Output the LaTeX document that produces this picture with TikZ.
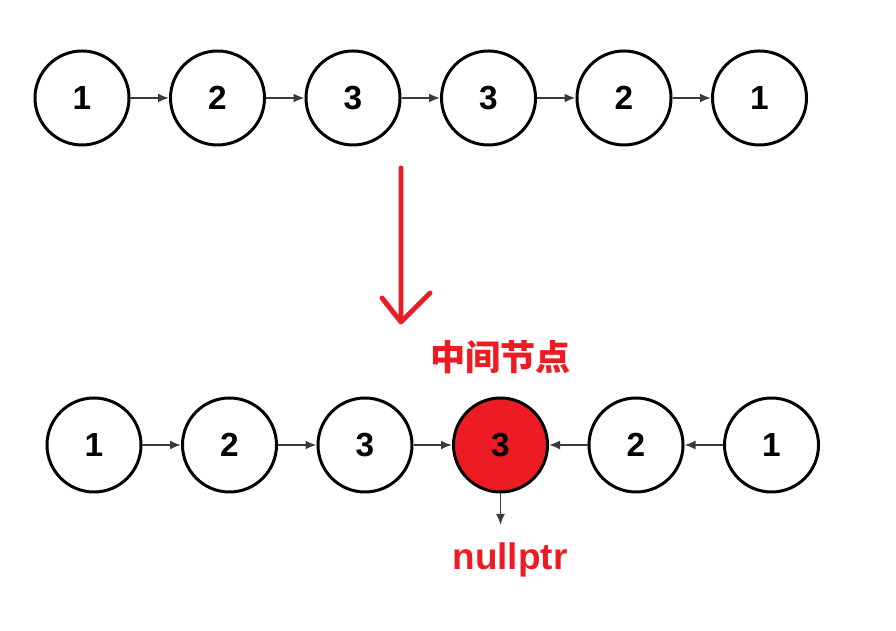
\documentclass[tikz,border=0pt]{standalone}
\usepackage{fontspec}
\setmainfont{Liberation Sans}
\newfontfamily\cjkfont{Noto Sans CJK SC}
\usetikzlibrary{arrows.meta, positioning}
\definecolor{cred}{HTML}{ED1C24}
\definecolor{cline}{HTML}{3A3A3A}
\tikzset{
  every picture/.style={font=\fontsize{9.5}{11}\selectfont\bfseries},
  item/.style={circle, draw=black, line width=0.85pt, minimum size=0.94cm, inner sep=0pt, fill=white},
  link/.style={-{Latex[length=1.1mm, width=0.9mm]}, draw=cline, line width=0.55pt},
  redtext/.style={text=cred, font=\fontsize{9.5}{11}\selectfont\bfseries},
}
\begin{document}
\begin{tikzpicture}
  \useasboundingbox (0,0) rectangle (8.96,6.30);
  % original list
  \node[item] (a1) at (0.82,5.32)  {1};
  \node[item] (a2) at (2.175,5.32) {2};
  \node[item] (a3) at (3.53,5.32)  {3};
  \node[item] (a4) at (4.885,5.32) {3};
  \node[item] (a5) at (6.24,5.32)  {2};
  \node[item] (a6) at (7.595,5.32) {1};
  \draw[link] (a1) -- (a2); \draw[link] (a2) -- (a3); \draw[link] (a3) -- (a4);
  \draw[link] (a4) -- (a5); \draw[link] (a5) -- (a6);

  % hand drawn arrow
  \coordinate (s) at (4.01,4.62);
  \coordinate (t) at (4.01,3.08);
  \coordinate (hl) at (3.82,3.32);
  \coordinate (hr) at (4.30,3.37);
  \draw[cred, line width=1.4pt, line cap=round, line join=round] (s) -- (t) (hl) -- (t) -- (hr);

  % list after reversing the second half
  \node[item] (b1) at (0.94,1.85)  {1};
  \node[item] (b2) at (2.295,1.85) {2};
  \node[item] (b3) at (3.65,1.85)  {3};
  \node[item, fill=cred] (mid) at (5.005,1.85) {3};
  \node[item] (b5) at (6.36,1.85)  {2};
  \node[item] (b6) at (7.715,1.85) {1};
  \draw[link] (b1) -- (b2); \draw[link] (b2) -- (b3); \draw[link] (b3) -- (mid);
  \draw[link] (b5) -- (mid); \draw[link] (b6) -- (b5);
  \node[redtext, font=\fontsize{10}{12}\selectfont\bfseries, above=0.1cm of mid] (lbl) {\cjkfont\bfseries 中间节点};
  \coordinate (nil) at (5.005,1.05);
  \draw[link] (mid) -- (nil);
  \node[redtext, font=\fontsize{10.5}{12}\selectfont\bfseries] (np) at (5.10,0.70) {nullptr};
\end{tikzpicture}
\end{document}
